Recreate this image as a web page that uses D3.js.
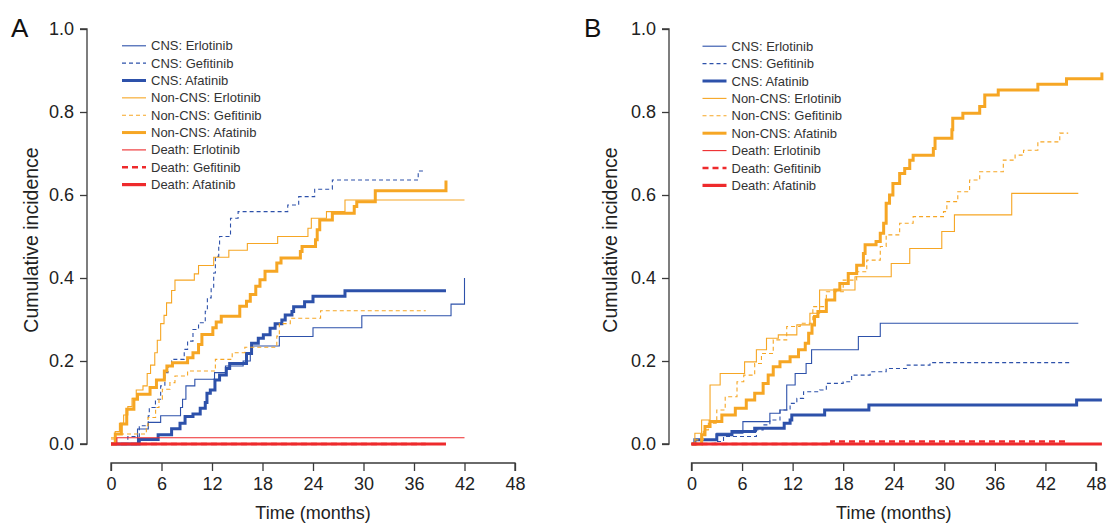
<!DOCTYPE html>
<html>
<head>
<meta charset="utf-8">
<script src="https://cdn.jsdelivr.net/npm/d3@7"></script>
<style>
  html, body { margin: 0; padding: 0; background: #fff; }
  svg { display: block; }
  text { font-family: "Liberation Sans", Arial, Helvetica, sans-serif; }
</style>
</head>
<body>
<svg id="chart" width="1110" height="523"></svg>
<script>
// ---------------- DATA ----------------
const seriesLabels = ["CNS: Erlotinib", "CNS: Gefitinib", "CNS: Afatinib",
  "Non-CNS: Erlotinib", "Non-CNS: Gefitinib", "Non-CNS: Afatinib",
  "Death: Erlotinib", "Death: Gefitinib", "Death: Afatinib"];
const xTicks = [0, 6, 12, 18, 24, 30, 36, 42, 48];
const yTicks = [0.0, 0.2, 0.4, 0.6, 0.8, 1.0];
const panelLetters = ["A", "B"];

// Panel A: [month, cumulative incidence]
const A_CNS_Erlotinib = [[0,0],[3.15,0.036],[4.43,0.052],[5.9,0.068],[8.26,0.088],[8.5,0.108],[8.9,0.14],[9.96,0.156],[12.3,0.172],[13.6,0.188],[15.7,0.2],[16.55,0.216],[16.8,0.236],[20.0,0.259],[24.0,0.28],[29.8,0.309],[40.4,0.337],[42,0.40]];
const A_CNS_Gefitinib = [[0,0],[2.0,0.018],[3.36,0.044],[4.43,0.068],[4.55,0.088],[5.28,0.108],[5.9,0.14],[6.4,0.172],[6.77,0.188],[7.2,0.204],[8.7,0.228],[9.1,0.248],[9.74,0.276],[10.4,0.292],[11.2,0.32],[11.45,0.352],[11.9,0.376],[12.2,0.412],[12.4,0.452],[12.8,0.476],[12.9,0.5],[14.2,0.544],[15.1,0.56],[21.0,0.576],[22.3,0.596],[24.2,0.614],[26.3,0.636],[36.5,0.658],[37.4,0.658]];
const A_CNS_Afatinib = [[0,0],[3.36,0.011],[5.6,0.022],[7.2,0.037],[8.2,0.05],[8.8,0.066],[9.74,0.072],[10.6,0.086],[11.2,0.1],[11.4,0.122],[11.8,0.13],[12.35,0.154],[12.9,0.166],[13.7,0.182],[14.1,0.194],[16.1,0.218],[16.7,0.243],[17.5,0.255],[18.1,0.263],[18.9,0.279],[19.5,0.29],[20.3,0.299],[20.7,0.311],[21.5,0.319],[21.7,0.331],[23.0,0.343],[24.0,0.356],[27.8,0.369],[39.8,0.369]];
const A_NonCNS_Erlotinib = [[0,0.015],[0.5,0.03],[1.0,0.05],[1.5,0.07],[2.0,0.09],[2.5,0.11],[3.0,0.13],[3.8,0.14],[4.3,0.17],[4.7,0.19],[5.2,0.22],[5.5,0.25],[5.9,0.29],[6.3,0.31],[6.6,0.34],[7.2,0.37],[7.6,0.395],[9.9,0.41],[10.4,0.43],[12.2,0.45],[14.0,0.467],[16.2,0.483],[19.8,0.50],[23.4,0.52],[23.8,0.544],[25.6,0.56],[27.8,0.588],[42,0.588]];
const A_NonCNS_Gefitinib = [[0,0.012],[0.5,0.024],[4.2,0.044],[4.4,0.064],[5.3,0.088],[5.7,0.108],[6.1,0.132],[7.0,0.148],[7.6,0.164],[9.1,0.176],[12.4,0.204],[14.4,0.22],[15.9,0.233],[19.7,0.26],[20.0,0.29],[21.3,0.303],[24.9,0.321],[37.4,0.321]];
const A_NonCNS_Afatinib = [[0,0],[0.51,0.024],[1.23,0.048],[1.87,0.084],[2.72,0.108],[3.15,0.12],[4.64,0.136],[5.4,0.154],[6.34,0.176],[6.64,0.188],[7.3,0.196],[9.1,0.208],[9.74,0.22],[10.4,0.24],[10.8,0.264],[12.1,0.28],[12.5,0.294],[13.1,0.308],[15.3,0.332],[16.1,0.344],[16.55,0.36],[17.2,0.38],[17.7,0.396],[18.3,0.416],[19.7,0.436],[20.2,0.448],[22.5,0.464],[22.7,0.476],[24.3,0.492],[24.5,0.516],[24.8,0.54],[26.3,0.556],[28.9,0.572],[29.2,0.584],[31.4,0.61],[39.8,0.635]];
const A_Death_Erlotinib = [[0,0],[0.7,0.015],[42,0.015]];
const A_Death_Gefitinib = [[0,0],[37.4,0]];
const A_Death_Afatinib = [[0,0],[39.8,0]];

// Panel B: [month, cumulative incidence]
const B_CNS_Erlotinib = [[0,0],[0.4,0.01],[3.0,0.026],[6.1,0.054],[9.3,0.074],[10.5,0.082],[11.3,0.142],[12.3,0.17],[13.6,0.194],[14.25,0.227],[19.8,0.259],[22.4,0.291],[45.9,0.291]];
const B_CNS_Gefitinib = [[0,0],[2.8,0.006],[3.8,0.018],[7.7,0.034],[8.5,0.046],[9.3,0.058],[10.5,0.082],[11.7,0.098],[12.5,0.11],[13.3,0.126],[15.2,0.13],[16.0,0.146],[18.0,0.15],[19.0,0.166],[21.2,0.174],[23.1,0.182],[25.5,0.19],[28.3,0.196],[44.9,0.196]];
const B_CNS_Afatinib = [[0,0],[0.4,0.01],[3.0,0.022],[4.8,0.03],[7.5,0.038],[11.0,0.05],[11.7,0.058],[11.9,0.07],[15.8,0.082],[21.05,0.094],[45.7,0.106],[48.7,0.106]];
const B_NonCNS_Erlotinib = [[0,0],[0.4,0.026],[1.2,0.058],[2.2,0.142],[3.4,0.17],[6.3,0.198],[7.7,0.227],[8.9,0.255],[10.3,0.263],[12.5,0.287],[14.05,0.315],[15.2,0.371],[19.4,0.403],[23.7,0.435],[25.9,0.471],[29.7,0.512],[31.2,0.552],[38.0,0.604],[45.9,0.604]];
const B_NonCNS_Gefitinib = [[0,0],[0.4,0.01],[1.4,0.034],[2.0,0.05],[3.0,0.082],[4.0,0.114],[5.4,0.15],[6.2,0.166],[7.5,0.194],[8.3,0.218],[9.7,0.251],[11.3,0.283],[12.9,0.291],[14.4,0.331],[16.0,0.367],[18.0,0.395],[19.6,0.415],[20.8,0.443],[22.4,0.476],[23.1,0.504],[24.7,0.532],[26.3,0.548],[29.9,0.56],[30.3,0.584],[31.6,0.608],[33.0,0.636],[34.2,0.656],[37.0,0.684],[38.4,0.696],[39.4,0.708],[41.1,0.728],[43.7,0.749],[44.7,0.749]];
const B_NonCNS_Afatinib = [[0,0],[1.2,0.022],[1.6,0.042],[2.2,0.054],[3.6,0.07],[5.2,0.086],[6.5,0.106],[7.5,0.122],[8.5,0.146],[9.1,0.166],[9.7,0.186],[10.5,0.198],[11.7,0.21],[12.7,0.227],[13.5,0.243],[13.9,0.267],[14.3,0.287],[14.6,0.307],[15.0,0.319],[16.0,0.347],[17.0,0.371],[17.6,0.387],[18.6,0.411],[19.6,0.431],[20.4,0.459],[20.6,0.48],[21.9,0.488],[22.4,0.508],[22.8,0.532],[23.1,0.58],[23.5,0.6],[23.9,0.628],[24.7,0.652],[25.3,0.664],[25.9,0.684],[26.3,0.696],[28.7,0.712],[28.9,0.737],[30.9,0.757],[31.0,0.785],[32.2,0.797],[34.2,0.813],[34.8,0.841],[36.4,0.853],[41.1,0.867],[44.5,0.88],[48.7,0.895]];
const B_Death_Erlotinib = [[0,0],[45.9,0]];
const B_Death_Gefitinib = [[0,0],[16.6,0.006],[44.7,0.006]];
const B_Death_Afatinib = [[0,0],[48.7,0]];

const panelA = [A_CNS_Erlotinib, A_CNS_Gefitinib, A_CNS_Afatinib, A_NonCNS_Erlotinib, A_NonCNS_Gefitinib, A_NonCNS_Afatinib, A_Death_Erlotinib, A_Death_Gefitinib, A_Death_Afatinib];
const panelB = [B_CNS_Erlotinib, B_CNS_Gefitinib, B_CNS_Afatinib, B_NonCNS_Erlotinib, B_NonCNS_Gefitinib, B_NonCNS_Afatinib, B_Death_Erlotinib, B_Death_Gefitinib, B_Death_Afatinib];

// ---------------- STYLES ----------------
const BLUE = "#2d51aa", ORANGE = "#f6a624", RED = "#ee2a2c";
const styles = [
  {c: BLUE, w: 1.1, d: null},
  {c: BLUE, w: 1.1, d: "4,3"},
  {c: BLUE, w: 3, d: null},
  {c: ORANGE, w: 1.1, d: null},
  {c: ORANGE, w: 1.1, d: "4,3"},
  {c: ORANGE, w: 3, d: null},
  {c: RED, w: 1.1, d: null},
  {c: RED, w: 2.6, d: "6,4"},
  {c: RED, w: 3.2, d: null}
];

const svg = d3.select("#chart");
const AXC = "#3a3a3a";

function drawPanel(cfg) {
  const x = d3.scaleLinear().domain([0, 48]).range([cfg.x0, cfg.x1]);
  const y = d3.scaleLinear().domain([0, 1]).range([444, 29]);
  const g = svg.append("g");

  // Y axis
  const yAx = g.append("g").attr("transform", `translate(${cfg.yAxisX},0)`)
    .call(d3.axisLeft(y).tickValues(yTicks).tickFormat(d3.format(".1f")).tickSize(7).tickPadding(6));
  yAx.select(".domain").attr("d", `M-7,${y(1)}H0V${y(0)}H-7`);
  // X axis
  const xAx = g.append("g").attr("transform", `translate(0,463)`)
    .call(d3.axisBottom(x).tickValues(xTicks).tickSize(8).tickPadding(6));
  xAx.select(".domain").attr("d", `M${x(0)},8V0H${x(48)}V8`);
  g.selectAll(".domain, .tick line").attr("stroke", AXC).attr("stroke-width", 1.3);
  g.selectAll(".tick text").attr("fill", "#222").style("font-size", "18px")
    .style("font-family", '"Liberation Sans", Arial, sans-serif');

  // Axis titles
  g.append("text").attr("x", (x(0) + x(48)) / 2).attr("y", 519).attr("text-anchor", "middle")
    .attr("fill", "#222").style("font-size", "18px").text("Time (months)");
  g.append("text").attr("transform", `translate(${cfg.yLabelX},240) rotate(-90)`).attr("text-anchor", "middle")
    .attr("fill", "#222").style("font-size", "19.5px").text("Cumulative incidence");
  // Panel letter
  g.append("text").attr("x", cfg.letterX).attr("y", 37).attr("fill", "#111")
    .style("font-size", "26px").text(cfg.letter);

  // Curves
  const line = d3.line().x(d => x(d[0])).y(d => y(d[1])).curve(d3.curveStepAfter);
  cfg.data.forEach((s, i) => {
    const st = styles[i];
    g.append("path").attr("d", line(s)).attr("fill", "none")
      .attr("stroke", st.c).attr("stroke-width", st.w)
      .attr("stroke-dasharray", st.d).attr("stroke-linejoin", "miter");
  });

  // Legend
  const lg = g.append("g");
  seriesLabels.forEach((lab, i) => {
    const st = styles[i];
    const yy = cfg.legY + i * cfg.legStep;
    lg.append("line").attr("x1", cfg.legX).attr("x2", cfg.legX + 24).attr("y1", yy).attr("y2", yy)
      .attr("stroke", st.c).attr("stroke-width", st.w).attr("stroke-dasharray", st.d);
    lg.append("text").attr("x", cfg.legX + 29).attr("y", yy).attr("dy", "0.35em")
      .attr("fill", "#333").style("font-size", "13px").text(lab);
  });
}

drawPanel({letter: panelLetters[0], letterX: 11, x0: 111, x1: 515, yAxisX: 87, yLabelX: 38,
  legX: 122, legY: 45.8, legStep: 17.35, data: panelA});
drawPanel({letter: panelLetters[1], letterX: 584, x0: 691.5, x1: 1096, yAxisX: 669, yLabelX: 617,
  legX: 702.5, legY: 46.2, legStep: 17.4, data: panelB});
</script>
</body>
</html>
